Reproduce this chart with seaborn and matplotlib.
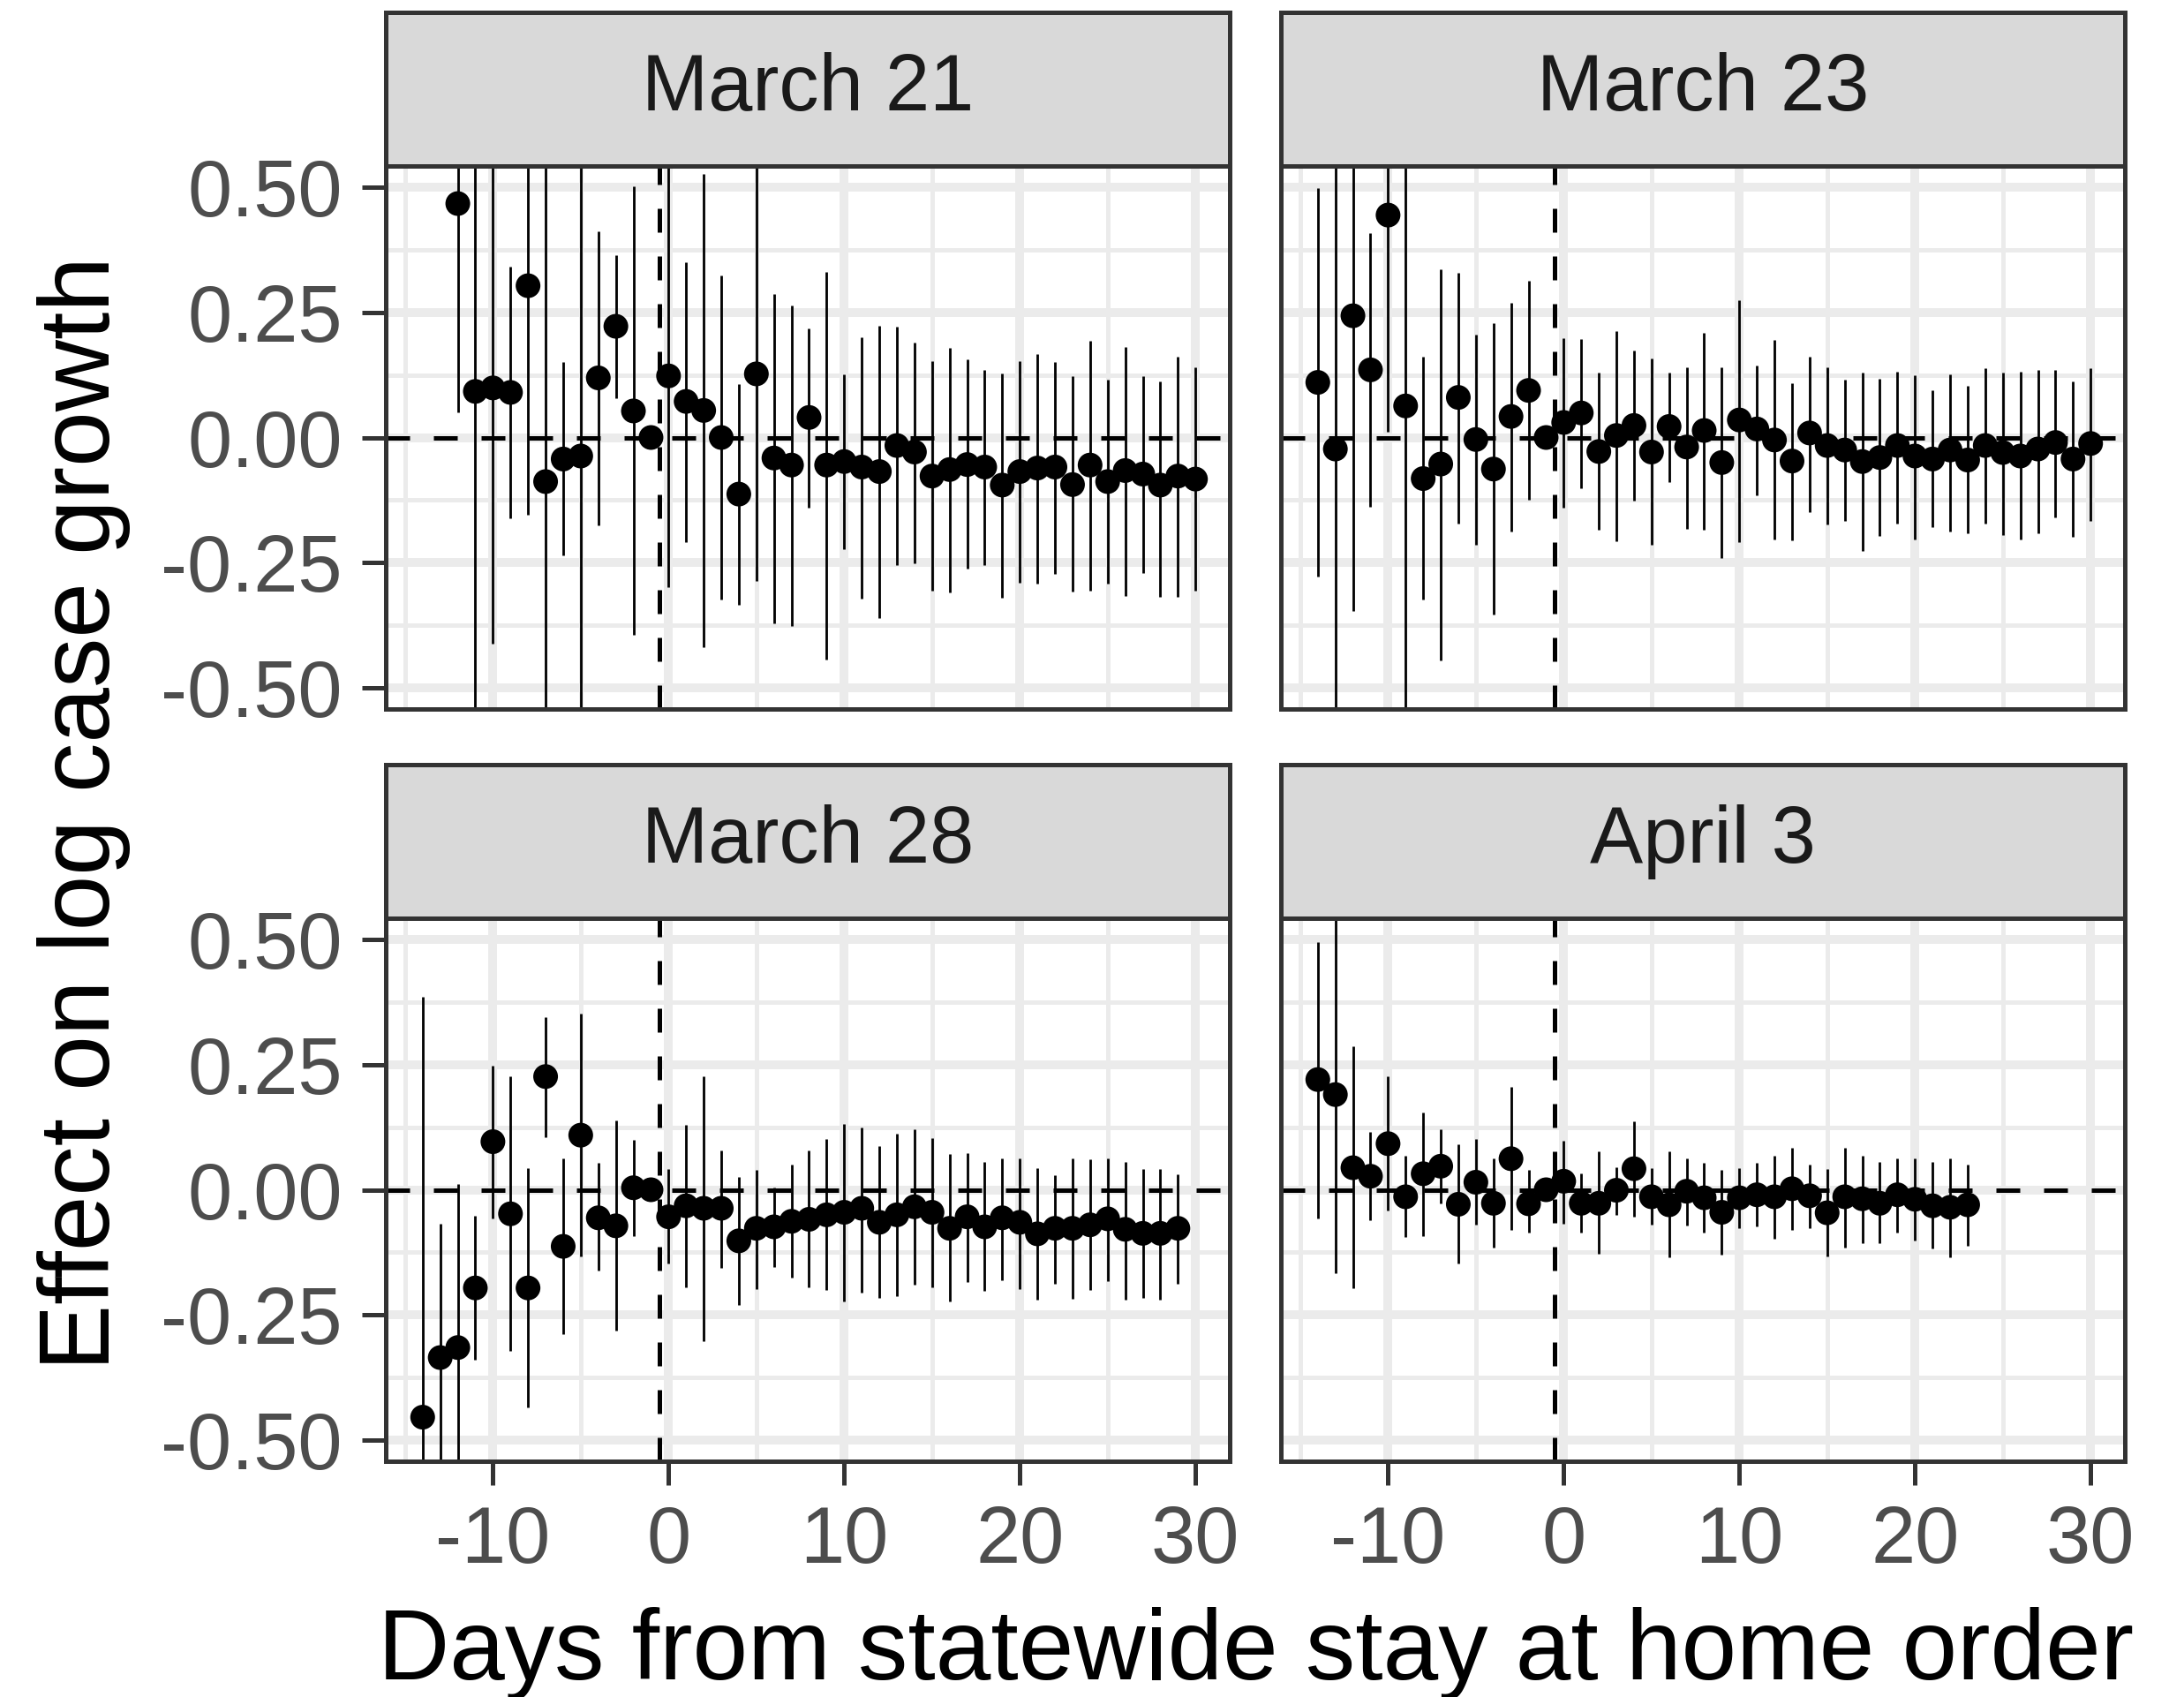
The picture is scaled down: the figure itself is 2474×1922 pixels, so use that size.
import numpy as np
import pandas as pd
import matplotlib
matplotlib.use("Agg")
import matplotlib.pyplot as plt
from matplotlib.ticker import MultipleLocator, FormatStrFormatter
import seaborn as sns

# ---------------- data ----------------
panels = ["March 21", "March 23", "March 28", "April 3"]

days1 = list(range(-12, 31))
est1 = [0.467, 0.092, 0.099, 0.090, 0.303, -0.088, -0.043, -0.037, 0.119, 0.222, 0.053, 0.0,
        0.123, 0.072, 0.054, 0.0, -0.113, 0.127, -0.041, -0.055, 0.040, -0.055,
        -0.048, -0.059, -0.068, -0.016, -0.029, -0.077, -0.064, -0.054, -0.059, -0.095,
        -0.068, -0.061, -0.059, -0.094, -0.055, -0.088, -0.066, -0.073, -0.095, -0.077, -0.083]
lo1 = [0.050, -0.62, -0.411, -0.161, -0.155, -0.80, -0.236, -0.72, -0.176, 0.079, -0.394, 0.0,
       -0.298, -0.208, -0.419, -0.323, -0.334, -0.286, -0.371, -0.376, -0.140, -0.443,
       -0.223, -0.321, -0.360, -0.255, -0.251, -0.306, -0.310, -0.262, -0.255, -0.320,
       -0.290, -0.292, -0.272, -0.308, -0.305, -0.291, -0.316, -0.270, -0.318, -0.318, -0.306]
hi1 = [0.88, 0.80, 0.609, 0.341, 0.76, 0.62, 0.150, 0.65, 0.411, 0.364, 0.501, 0.0,
       0.56, 0.350, 0.527, 0.323, 0.107, 0.56, 0.287, 0.264, 0.218, 0.331,
       0.126, 0.200, 0.223, 0.221, 0.189, 0.152, 0.179, 0.156, 0.135, 0.128,
       0.152, 0.166, 0.151, 0.122, 0.193, 0.116, 0.180, 0.122, 0.112, 0.162, 0.140]

days2 = list(range(-14, 31))
est2 = [0.110, -0.023, 0.243, 0.135, 0.444, 0.063, -0.082, -0.053, 0.080, -0.004, -0.063, 0.042, 0.094, 0.0,
        0.030, 0.049, -0.028, 0.004, 0.024, -0.029, 0.022, -0.019, 0.014, -0.050,
        0.035, 0.017, -0.005, -0.047, 0.009, -0.016, -0.025, -0.048, -0.040, -0.016,
        -0.037, -0.043, -0.025, -0.045, -0.016, -0.030, -0.037, -0.023, -0.010, -0.043, -0.012]
lo2 = [-0.277, -0.75, -0.347, -0.138, 0.012, -0.70, -0.323, -0.445, -0.171, -0.215, -0.353, -0.187, -0.125, 0.0,
       -0.140, -0.101, -0.184, -0.207, -0.126, -0.215, -0.089, -0.182, -0.185, -0.241,
       -0.208, -0.115, -0.203, -0.205, -0.149, -0.173, -0.166, -0.226, -0.197, -0.172,
       -0.203, -0.179, -0.187, -0.191, -0.172, -0.194, -0.203, -0.192, -0.160, -0.198, -0.166]
hi2 = [0.498, 0.70, 0.833, 0.408, 0.876, 0.80, 0.161, 0.336, 0.329, 0.206, 0.228, 0.269, 0.313, 0.0,
       0.199, 0.197, 0.130, 0.213, 0.173, 0.157, 0.130, 0.141, 0.209, 0.140,
       0.274, 0.144, 0.195, 0.109, 0.162, 0.140, 0.116, 0.130, 0.117, 0.132,
       0.125, 0.094, 0.126, 0.103, 0.139, 0.130, 0.132, 0.135, 0.135, 0.112, 0.139]

days3 = list(range(-14, 30))
est3 = [-0.454, -0.335, -0.315, -0.196, 0.096, -0.048, -0.196, 0.226, -0.113, 0.109, -0.056, -0.072, 0.004, 0.0,
        -0.054, -0.032, -0.037, -0.037, -0.102, -0.077, -0.074, -0.063, -0.059, -0.050,
        -0.045, -0.037, -0.065, -0.050, -0.034, -0.045, -0.077, -0.054, -0.074, -0.056,
        -0.065, -0.088, -0.077, -0.077, -0.070, -0.058, -0.079, -0.087, -0.087, -0.077]
lo3 = [-1.29, -0.602, -0.641, -0.340, -0.057, -0.322, -0.435, 0.105, -0.288, -0.133, -0.162, -0.281, -0.092, 0.0,
       -0.148, -0.194, -0.302, -0.156, -0.230, -0.198, -0.154, -0.176, -0.195, -0.200,
       -0.223, -0.205, -0.216, -0.213, -0.189, -0.195, -0.223, -0.184, -0.202, -0.180,
       -0.198, -0.220, -0.187, -0.218, -0.200, -0.183, -0.219, -0.216, -0.219, -0.187]
hi3 = [0.386, -0.068, 0.011, -0.052, 0.247, 0.226, 0.043, 0.345, 0.063, 0.352, 0.053, 0.139, 0.099, 0.0,
       0.042, 0.130, 0.226, 0.079, 0.025, 0.040, 0.004, 0.050, 0.078, 0.101,
       0.132, 0.125, 0.087, 0.112, 0.120, 0.103, 0.072, 0.074, 0.056, 0.063,
       0.063, 0.043, 0.029, 0.063, 0.061, 0.062, 0.056, 0.042, 0.042, 0.030]

days4 = list(range(-14, 24))
est4 = [0.220, 0.190, 0.044, 0.027, 0.092, -0.014, 0.032, 0.047, -0.029, 0.015, -0.027, 0.062, -0.028, 0.0,
        0.017, -0.027, -0.027, -0.001, 0.042, -0.014, -0.030, -0.003, -0.016, -0.045,
        -0.016, -0.010, -0.014, 0.002, -0.012, -0.046, -0.014, -0.018, -0.027, -0.010,
        -0.019, -0.032, -0.035, -0.030]
lo4 = [-0.057, -0.166, -0.196, -0.061, -0.041, -0.095, -0.092, -0.028, -0.148, -0.070, -0.115, -0.081, -0.086, 0.0,
       -0.068, -0.086, -0.128, -0.050, -0.054, -0.070, -0.135, -0.071, -0.086, -0.129,
       -0.077, -0.074, -0.097, -0.081, -0.076, -0.133, -0.115, -0.107, -0.107, -0.086,
       -0.102, -0.118, -0.135, -0.112]
hi4 = [0.495, 0.56, 0.286, 0.115, 0.226, 0.067, 0.155, 0.120, 0.091, 0.101, 0.062, 0.205, 0.040, 0.0,
       0.098, 0.032, 0.076, 0.045, 0.136, 0.044, 0.076, 0.062, 0.054, 0.040,
       0.043, 0.054, 0.068, 0.083, 0.051, 0.042, 0.084, 0.068, 0.055, 0.062,
       0.063, 0.056, 0.063, 0.050]

x_ticks = [-10, 0, 10, 20, 30]
y_ticks = [-0.50, -0.25, 0.00, 0.25, 0.50]
x_label = "Days from statewide stay at home order"
y_label = "Effect on log case growth"

frames = []
for name, d, e, l, h in zip(panels, [days1, days2, days3, days4], [est1, est2, est3, est4],
                            [lo1, lo2, lo3, lo4], [hi1, hi2, hi3, hi4]):
    frames.append(pd.DataFrame({"panel": name, "day": d, "est": e, "lo": l, "hi": h}))
df = pd.concat(frames, ignore_index=True)

# ---------------- style ----------------
sns.set_theme(style="white")
plt.rcParams["font.family"] = ["Liberation Sans", "DejaVu Sans"]
plt.rcParams["axes.unicode_minus"] = False

W, H = 2474, 1922
DPI = 100
PX = 72.0 / DPI  # points per pixel

g = sns.FacetGrid(df, col="panel", col_order=panels, col_wrap=2, sharex=True, sharey=True,
                  height=5, aspect=1)


def draw(data, **kw):
    ax = plt.gca()
    ax.axhline(0, color="black", lw=5 * PX, ls=(0, (5.4, 5.4)), zorder=1.5)
    ax.axvline(-0.5, color="black", lw=5 * PX, ls=(0, (5.4, 5.4)), zorder=1.5)
    ax.vlines(data["day"], data["lo"], data["hi"], color="black", lw=2.8 * PX, zorder=2)
    sns.scatterplot(data=data, x="day", y="est", ax=ax, color="black", s=(28 * PX) ** 2,
                    edgecolor="none", linewidth=0, zorder=3, legend=False)


g.map_dataframe(draw)
g.set_titles("")
g.set_axis_labels("", "")
fig = g.figure
fig.set_size_inches(W / DPI, H / DPI)
fig.set_dpi(DPI)

# layout in pixels
col_left = [437, 1451]
col_w = 956
row_top = [188, 1040]
row_h = 615
strip_h = 174

border_col = "#333333"
for i, ax in enumerate(g.axes.flat):
    r, c = divmod(i, 2)
    x0 = col_left[c] / W
    y0 = 1 - (row_top[r] + row_h) / H
    ax.set_position([x0, y0, col_w / W, row_h / H])
    ax.set_xlim(-16.1, 31.95)
    ax.set_ylim(-0.542, 0.542)
    ax.set_xticks(x_ticks)
    ax.set_yticks(y_ticks)
    ax.xaxis.set_minor_locator(MultipleLocator(5))
    ax.yaxis.set_minor_locator(MultipleLocator(0.125))
    ax.yaxis.set_major_formatter(FormatStrFormatter("%.2f"))
    ax.set_axisbelow(True)
    ax.grid(which="major", color="#EBEBEB", lw=10 * PX)
    ax.grid(which="minor", color="#EBEBEB", lw=5 * PX)
    ax.set_facecolor("white")
    for sp in ax.spines.values():
        sp.set_visible(True)
        sp.set_color(border_col)
        sp.set_linewidth(5 * PX)
        sp.set_zorder(5)
    ax.tick_params(which="minor", length=0)
    ax.tick_params(which="major", length=27 * PX, width=5 * PX, color=border_col,
                   labelsize=65, labelcolor="#4D4D4D", pad=22 * PX,
                   bottom=(r == 1), left=(c == 0), labelbottom=(r == 1), labelleft=(c == 0))
    ax.set_xlabel("")
    ax.set_ylabel("")

    # strip
    sax = fig.add_axes([x0, 1 - row_top[r] / H, col_w / W, strip_h / H])
    sax.set_facecolor("#D9D9D9")
    sax.set_xticks([])
    sax.set_yticks([])
    for sp in sax.spines.values():
        sp.set_visible(True)
        sp.set_color(border_col)
        sp.set_linewidth(5 * PX)
    sax.text(0.5, 0.5, panels[i], ha="center", va="center", fontsize=65,
             color="#1A1A1A", transform=sax.transAxes)

fig.text(1422.5 / W, 1 - 1902 / H, x_label, ha="center", va="baseline", fontsize=81, color="black")
fig.text(95 / W, 1 - 921 / H, y_label, ha="center", va="center", rotation=90, fontsize=81,
         color="black")

fig.savefig("out.png", dpi=DPI, facecolor="white")
